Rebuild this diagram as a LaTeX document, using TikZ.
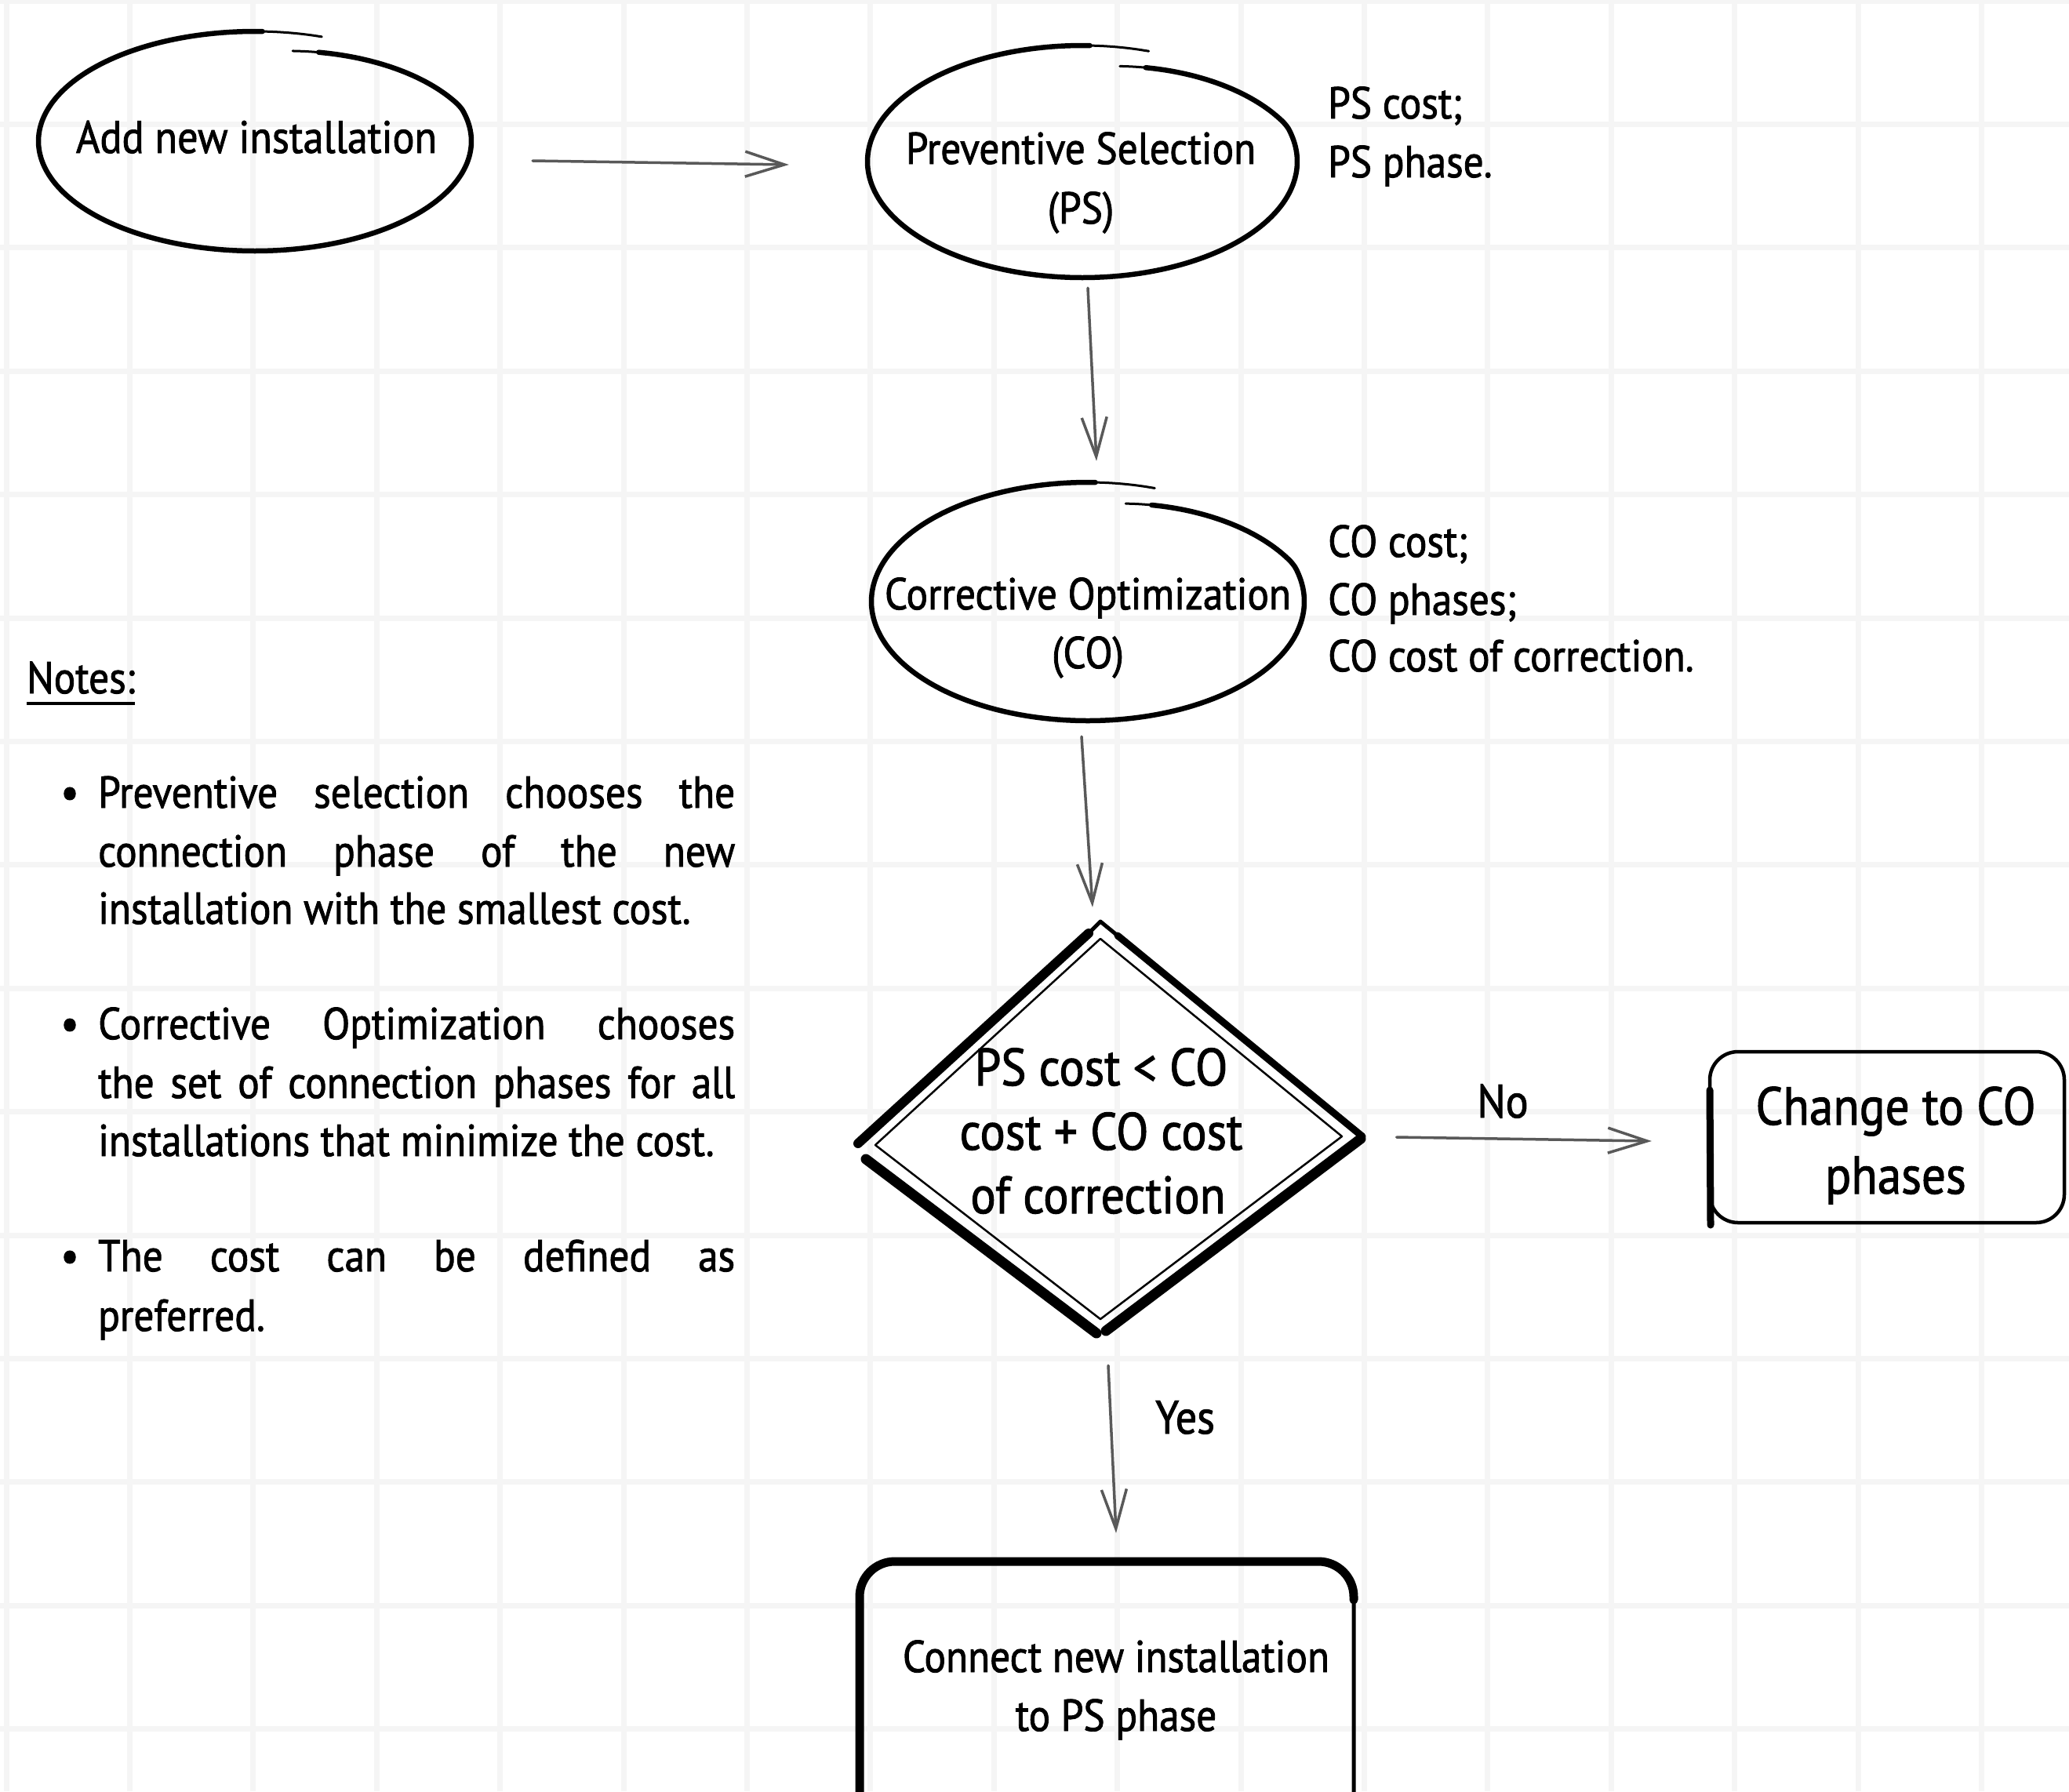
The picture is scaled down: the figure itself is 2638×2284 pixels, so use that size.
\documentclass[tikz,border=0pt]{standalone}
\usepackage{fontspec}
\newfontfamily\hand{PT Sans}[FakeStretch=0.9, FakeBold=1.5]
\usetikzlibrary{arrows.meta,shapes.geometric,calc}
\newcommand\handellipse[4]{%
  \draw[inkline, line width=3pt] plot[smooth, domain=-78:288, samples=120, variable=\q]
    ({#1+#3*(1-0.16*max(0,1-(\q+78)/60))*cos(\q)}, {#2+#4*(1-0.16*max(0,1-(\q+78)/60))*sin(\q)});
  \draw[inkline, line width=6.5pt] plot[smooth, domain=-70:272, samples=110, variable=\q]
    ({#1+#3*(1-0.16*max(0,1-(\q+78)/60))*cos(\q)}, {#2+#4*(1-0.16*max(0,1-(\q+78)/60))*sin(\q)});
}
\begin{document}
\begin{tikzpicture}[x=1pt, y=-1pt,
  gridline/.style={line width=7pt, draw=black!4},
  inkline/.style={draw=black, line cap=round, line join=round},
  shapeE/.style={ellipse, inner sep=0pt, draw=none},
  shapeB/.style={rectangle, inner sep=0pt, draw=none},
  conn/.style={draw=black!65, line width=3.5pt, line cap=round, -{Straight Barb[length=50pt, width=32pt]}},
  txt/.style={font=\hand\fontsize{57}{70}\selectfont, inner sep=0pt, anchor=base},
  bigtxt/.style={txt, font=\hand\fontsize{67}{80}\selectfont},
  hugetxt/.style={txt, font=\hand\fontsize{68}{80}\selectfont},
  bullet/.style={font=\hand\fontsize{58}{58}\selectfont, inner sep=0pt, anchor=base}
]
\useasboundingbox (0,0) rectangle (2638,2284);
\clip (0,0) rectangle (2638,2284);
\fill[white] (0,0) rectangle (2638,2284);
\foreach \k in {0,...,16} {\draw[gridline] ({8+157.4*\k},0) -- ({8+157.4*\k},2284);}
\foreach \k in {0,...,14} {\draw[gridline] (0,{1+157.4*\k}) -- (2638,{1+157.4*\k});}

% ---- Add new installation
\node[shapeE, minimum width=552pt, minimum height=280pt] (add) at (325,180) {};
\handellipse{325}{180}{276}{140}
\node[txt, font=\hand\fontsize{58}{70}\selectfont] (addT) at (327,195) {Add new installation};

% ---- Preventive Selection
\node[shapeE, minimum width=548pt, minimum height=296pt] (ps) at (1380,206) {};
\handellipse{1380}{206}{274}{148}
\node[txt] (psT1) at (1378,209) {Preventive Selection};
\node[txt] (psT2) at (1378,285) {(PS)};
\node[txt, anchor=base west] (psL1) at (1693,151) {PS cost;};
\node[txt, anchor=base west] (psL2) at (1693,226) {PS phase.};

% ---- Corrective Optimization
\node[shapeE, minimum width=552pt, minimum height=304pt] (co) at (1387,767) {};
\handellipse{1387}{767}{276}{152}
\node[txt] (coT1) at (1387,777) {Corrective Optimization};
\node[txt] (coT2) at (1387,852) {(CO)};
\node[txt, anchor=base west] (coL1) at (1693,710) {CO cost;};
\node[txt, anchor=base west] (coL2) at (1693,784) {CO phases;};
\node[txt, anchor=base west] (coL3) at (1693,856) {CO cost of correction.};

% ---- Decision diamond
\node[diamond, inner sep=0pt, minimum width=647pt, minimum height=528pt] (dec) at (1405,1439) {};
\draw[inkline, line width=12pt] (1094,1458) -- (1388,1190);
\draw[inkline, line width=5pt] (1388,1190) -- (1403,1175) -- (1425,1193);
\draw[inkline, line width=9pt] (1425,1193) -- (1737,1449);
\draw[inkline, line width=13pt] (1735,1452) -- (1410,1697);
\draw[inkline, line width=13pt] (1398,1700) -- (1104,1478);
\draw[inkline, line width=2.5pt] (1116,1460) -- (1403,1197) -- (1711,1449) -- (1403,1682) -- cycle;
\node[bigtxt] (decT1) at (1404,1384) {PS cost < CO};
\node[bigtxt] (decT2) at (1404,1466) {cost + CO cost};
\node[bigtxt] (decT3) at (1400,1547) {of correction};

% ---- Change to CO phases
\node[shapeB, minimum width=455pt, minimum height=220pt] (chg) at (2405.5,1450) {};
\draw[inkline, line width=4.5pt, rounded corners=36pt] (2180,1341) rectangle (2632,1559);
\draw[inkline, line width=9pt] (2180,1390) -- (2181,1562);
\node[hugetxt] (chgT1) at (2417,1434) {Change to CO};
\node[hugetxt] (chgT2) at (2417,1522) {phases};

% ---- Connect new installation
\node[shapeB, minimum width=634pt, minimum height=340pt] (con) at (1410.5,2160) {};
\draw[inkline, line width=5pt, rounded corners=45pt] (1096,1991) rectangle (1726,2340);
\draw[inkline, line width=11pt, rounded corners=45pt] (1096,2300) -- (1096,1991) -- (1726,1991) -- (1726,2040);
\node[txt] (conT1) at (1423,2132) {Connect new installation};
\node[txt] (conT2) at (1423,2207) {to PS phase};

% ---- Connectors
\draw[conn] ($(add.east)+(78,25)$) -- ($(ps.west)+(-100,4)$);
\draw[conn] ($(ps.south)+(7,13)$) -- ($(co.north)+(11,-27)$);
\draw[conn] ($(co.south)+(-8,20)$) -- ($(dec.north)+(-12,-18)$);
\draw[conn] ($(dec.east)+(52,11)$) -- ($(chg.west)+(-72,5)$);
\draw[conn] ($(dec.south)+(8,38)$) -- ($(con.north)+(12.5,-35)$);
\node[txt, font=\hand\fontsize{60}{70}\selectfont] (no) at (1916,1425) {No};
\node[txt, font=\hand\fontsize{60}{70}\selectfont] (yes) at (1511,1828) {Yes};

% ---- Notes
\node[txt, anchor=base west] (notes) at (34,884) {Notes:};
\draw[draw=black, line width=3.5pt] ($(notes.base west)+(0,13)$) -- ($(notes.base east)+(0,13)$);

\node[bullet] (b1) at (89,1030) {\textbullet};
\node[txt, anchor=base west] (n1a) at (125,1030) {\makebox[812pt][s]{Preventive selection chooses the}};
\node[txt, anchor=base west] (n1b) at (125,1105) {\makebox[812pt][s]{connection phase of the new}};
\node[txt, anchor=base west] (n1c) at (125,1178) {installation with the smallest cost.};

\node[bullet] (b2) at (89,1325) {\textbullet};
\node[txt, anchor=base west] (n2a) at (125,1325) {\makebox[812pt][s]{Corrective Optimization chooses}};
\node[txt, anchor=base west] (n2b) at (125,1400) {\makebox[812pt][s]{the set of connection phases for all}};
\node[txt, anchor=base west] (n2c) at (125,1474) {installations that minimize the cost.};

\node[bullet] (b3) at (89,1621) {\textbullet};
\node[txt, anchor=base west] (n3a) at (125,1621) {\makebox[812pt][s]{The cost can be defined as}};
\node[txt, anchor=base west] (n3b) at (125,1697) {preferred.};
\end{tikzpicture}
\end{document}
